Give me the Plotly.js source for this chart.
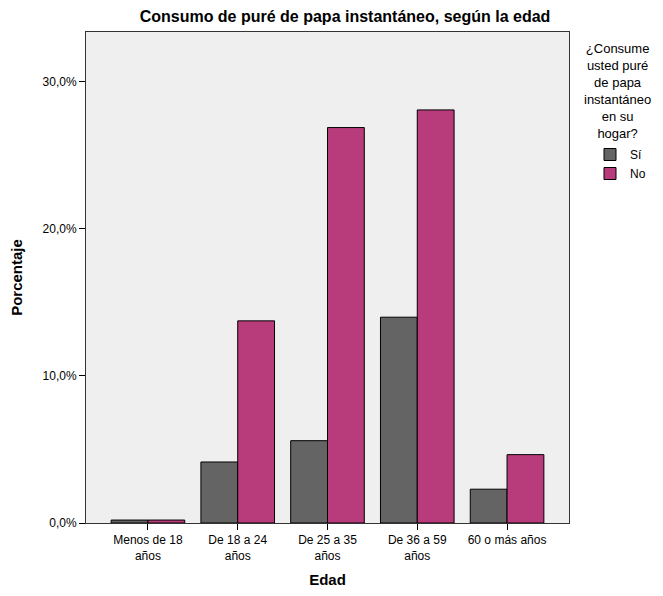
<!DOCTYPE html>
<html><head><meta charset="utf-8">
<script src="https://cdn.plot.ly/plotly-3.0.1.min.js"></script>
<style>body{margin:0;background:#fff}</style>
</head><body><div id="c" style="width:663px;height:596px"></div>
<script>
const categories = ["Menos de 18<br>años","De 18 a 24<br>años","De 25 a 35<br>años","De 36 a 59<br>años","60 o más años"];
const siValues = [0.2, 4.15, 5.6, 14.0, 2.3];
const noValues = [0.2, 13.75, 26.9, 28.1, 4.65];
const seriesNames = ["Sí", "No"];
const yTicks = [0, 10, 20, 30];
const yTickText = ["0,0%", "10,0%", "20,0%", "30,0%"];
const legendTitle = "¿Consume<br>usted puré<br>de papa<br>instantáneo<br>en su<br>hogar?";

const font = "Liberation Sans, Arial, sans-serif";
const traces = [
  {type:"bar", name:seriesNames[0], x:categories, y:siValues,
   marker:{color:"#646464", line:{color:"#000", width:1}}},
  {type:"bar", name:seriesNames[1], x:categories, y:noValues,
   marker:{color:"#b83c7b", line:{color:"#000", width:1}}}
];
const layout = {
  width:663, height:596,
  margin:{l:86, r:94, t:32, b:73},
  paper_bgcolor:"#fff", plot_bgcolor:"#efefef",
  font:{family:font, size:12, color:"#000"},
  barmode:"group", bargap:0.18, bargroupgap:0,
  title:{text:"<b>Consumo de puré de papa instantáneo, según la edad</b>",
         font:{size:16, family:font}, x:345/663, xanchor:"center", y:0.972, yanchor:"middle"},
  xaxis:{range:[-0.69, 4.69], showline:true, linecolor:"#333", linewidth:1, mirror:true,
         ticks:"outside", ticklen:6, tickcolor:"#000", tickfont:{size:12},
         title:{text:"<b>Edad</b>", font:{size:15}, standoff:12}},
  yaxis:{range:[0, 33.4], showline:true, linecolor:"#333", linewidth:1, mirror:true,
         showgrid:false, zeroline:false, tickmode:"array", tickvals:yTicks, ticktext:yTickText,
         ticks:"outside", ticklen:6, tickcolor:"#000", tickfont:{size:12},
         title:{text:"<b>Porcentaje</b>", font:{size:15}, standoff:16}},
  legend:{x:(590-86)/483, y:1 - (140-32)/491, yanchor:"top", bgcolor:"rgba(0,0,0,0)",
          font:{size:12}, itemwidth:30, tracegroupgap:0},
  annotations:[{text:legendTitle, xref:"paper", yref:"paper", x:(617-86)/483, y:1 + (32-39)/491,
                xanchor:"center", yanchor:"top", showarrow:false, align:"center",
                font:{size:13, family:font}}],
  showlegend:true
};
Plotly.newPlot("c", traces, layout, {displayModeBar:false});
</script></body></html>
